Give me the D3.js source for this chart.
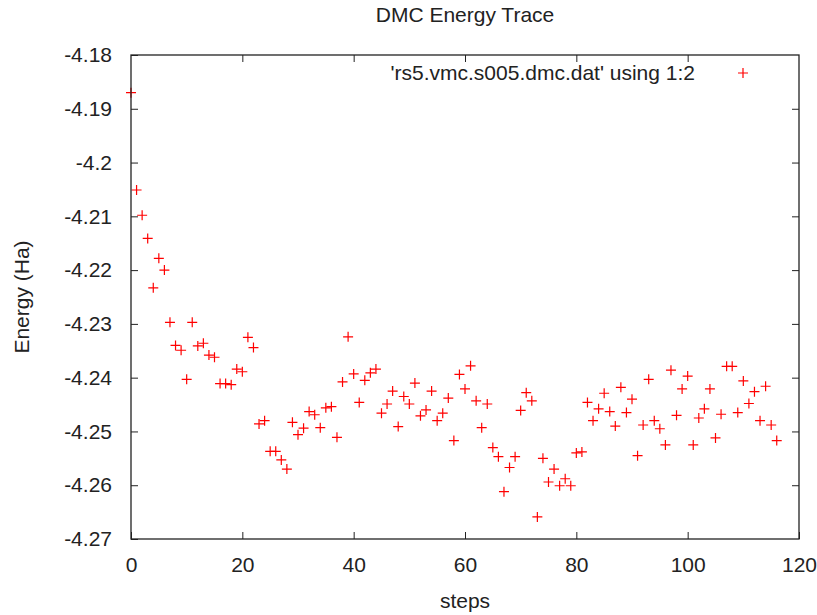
<!DOCTYPE html>
<html>
<head>
<meta charset="utf-8">
<script src="https://cdn.jsdelivr.net/npm/d3@7"></script>
<style>
  html, body { margin: 0; padding: 0; background: #fff; overflow: hidden; }
  svg { display: block; }
  svg text { font-family: "Liberation Sans", Arial, sans-serif; fill: #222; }
</style>
</head>
<body>
<svg id="chart" width="817" height="615"></svg>
<script>
// Energy per step
const energy = [
  -4.1870, -4.2051, -4.2098, -4.2141, -4.2233, -4.2178, -4.2200, -4.2297, -4.2340, -4.2349,
  -4.2403, -4.2297, -4.2341, -4.2336, -4.2358, -4.2362, -4.2411, -4.2411, -4.2413, -4.2384,
  -4.2389, -4.2325, -4.2344, -4.2486, -4.2480, -4.2537, -4.2537, -4.2553, -4.2570, -4.2483,
  -4.2506, -4.2494, -4.2463, -4.2469, -4.2493, -4.2456, -4.2454, -4.2511, -4.2408, -4.2324,
  -4.2393, -4.2446, -4.2405, -4.2391, -4.2384, -4.2466, -4.2449, -4.2425, -4.2491, -4.2435,
  -4.2449, -4.2410, -4.2471, -4.2460, -4.2425, -4.2480, -4.2466, -4.2438, -4.2517, -4.2394,
  -4.2421, -4.2378, -4.2443, -4.2493, -4.2449, -4.2530, -4.2547, -4.2612, -4.2567, -4.2547,
  -4.2461, -4.2428, -4.2443, -4.2659, -4.2550, -4.2594, -4.2570, -4.2601, -4.2588, -4.2601,
  -4.2540, -4.2538, -4.2446, -4.2480, -4.2458, -4.2429, -4.2463, -4.2490, -4.2418, -4.2465,
  -4.2440, -4.2545, -4.2488, -4.2403, -4.2480, -4.2495, -4.2525, -4.2386, -4.2470, -4.2421,
  -4.2397, -4.2525, -4.2475, -4.2458, -4.2421, -4.2512, -4.2468, -4.2379, -4.2379, -4.2465,
  -4.2406, -4.2448, -4.2426, -4.2480, -4.2416, -4.2488, -4.2517
];
const steps = energy.map((d, i) => i);

const xTicks = [0, 20, 40, 60, 80, 100, 120];
const yTicks = [-4.18, -4.19, -4.2, -4.21, -4.22, -4.23, -4.24, -4.25, -4.26, -4.27];

const titleText = "DMC Energy Trace";
const xLabel = "steps";
const yLabel = "Energy (Ha)";
const legendText = "'rs5.vmc.s005.dmc.dat' using 1:2";

const svg = d3.select("#chart"),
      margin = { top: 55, right: 18, bottom: 76, left: 131 },
      width = +svg.attr("width"),
      height = +svg.attr("height"),
      innerWidth = width - margin.left - margin.right,
      innerHeight = height - margin.top - margin.bottom;

const x = d3.scaleLinear().domain([0, 120]).range([0, innerWidth]);
const y = d3.scaleLinear().domain([-4.27, -4.18]).range([innerHeight, 0]);

const g = svg.append("g").attr("transform", `translate(${margin.left},${margin.top})`);

// gnuplot style labels: plain hyphen, no trailing zeros
const fmt = d => String(+d.toFixed(2));
const tickLen = 7;
const fontSize = 21;

// points as "+" markers
const r = 5;
g.append("g").selectAll("path")
  .data(steps)
  .join("path")
  .attr("d", i => {
    const cx = x(i), cy = y(energy[i]);
    return `M${cx - r},${cy}H${cx + r}M${cx},${cy - r}V${cy + r}`;
  })
  .attr("stroke", "red")
  .attr("stroke-width", 1.2)
  .attr("fill", "none");

// axes with inward ticks
const axisStyle = sel => {
  sel.attr("font-size", fontSize).attr("font-family", "Liberation Sans, Arial, sans-serif");
  sel.select(".domain").remove();
  sel.selectAll(".tick line").attr("stroke", "#222");
  sel.selectAll("text").attr("fill", "#222");
};
// mirror axes: tick marks only
const noLabels = sel => sel.selectAll("text").remove();

g.append("g").attr("transform", `translate(0,${innerHeight})`)
  .call(d3.axisBottom(x).tickValues(xTicks).tickSizeInner(-tickLen).tickSizeOuter(0).tickPadding(18))
  .call(axisStyle);
g.append("g")
  .call(d3.axisTop(x).tickValues(xTicks.slice(1, -1)).tickSizeInner(-tickLen).tickSizeOuter(0))
  .call(axisStyle).call(noLabels);
g.append("g")
  .call(d3.axisLeft(y).tickValues(yTicks).tickSizeInner(-tickLen).tickSizeOuter(0).tickPadding(19).tickFormat(fmt))
  .call(axisStyle);
g.append("g").attr("transform", `translate(${innerWidth},0)`)
  .call(d3.axisRight(y).tickValues(yTicks.slice(1, -1)).tickSizeInner(-tickLen).tickSizeOuter(0))
  .call(axisStyle).call(noLabels);

// border
g.append("rect")
  .attr("width", innerWidth).attr("height", innerHeight)
  .attr("fill", "none").attr("stroke", "#222").attr("stroke-width", 1.3);

// legend
g.append("text")
  .attr("x", 564).attr("y", 18).attr("dy", "0.35em")
  .attr("text-anchor", "end").attr("font-size", fontSize)
  .text(legendText);
const lx = 612, ly = 18;
g.append("path")
  .attr("d", `M${lx - r},${ly}H${lx + r}M${lx},${ly - r}V${ly + r}`)
  .attr("stroke", "red").attr("stroke-width", 1.2);

// titles
svg.append("text")
  .attr("x", margin.left + innerWidth / 2).attr("y", 15).attr("dy", "0.35em")
  .attr("text-anchor", "middle").attr("font-size", fontSize)
  .text(titleText);
svg.append("text")
  .attr("x", margin.left + innerWidth / 2).attr("y", 601).attr("dy", "0.35em")
  .attr("text-anchor", "middle").attr("font-size", fontSize)
  .text(xLabel);
svg.append("text")
  .attr("transform", `translate(22,${margin.top + innerHeight / 2}) rotate(-90)`)
  .attr("dy", "0.35em")
  .attr("text-anchor", "middle").attr("font-size", fontSize)
  .text(yLabel);
</script>
</body>
</html>
